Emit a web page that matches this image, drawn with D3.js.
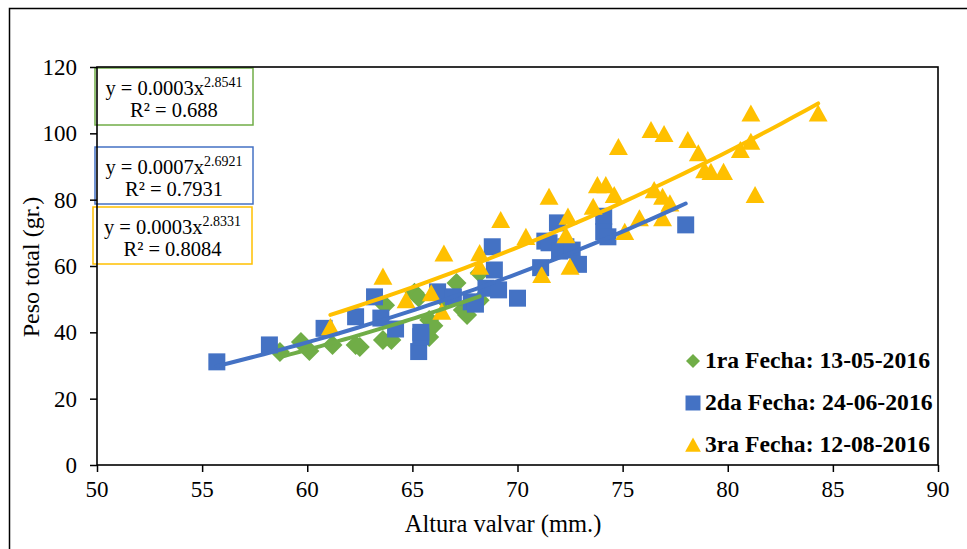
<!DOCTYPE html>
<html><head><meta charset="utf-8">
<script src="https://cdn.jsdelivr.net/npm/d3@7"></script>
<style>body{margin:0;background:#fff} svg{display:block}</style>
</head><body><svg id="c" width="967" height="549"></svg>
<script>
// ---- data ----
const seriesNames = ["1ra Fecha: 13-05-2016", "2da Fecha: 24-06-2016", "3ra Fecha: 12-08-2016"];
const fecha1 = [[58.7,34.1],[59.7,37.1],[60.1,34.4],[61.2,36.2],[62.3,36.2],[62.5,35.6],[63.6,37.7],[63.7,48.2],
  [64.0,37.7],[65.1,51.9],[65.3,50.5],[65.8,43.7],[65.8,38.6],[66.0,42.0],[66.5,50.0],[67.1,54.9],[67.4,46.7],
  [67.6,45.2],[68.2,57.9],[68.2,49.7]];
const fecha2 = [[55.7,31.1],[58.2,36.2],[60.8,41.2],[62.3,44.7],[63.2,50.7],[63.5,44.3],[64.2,41.0],[65.3,34.2],
  [65.4,38.7],[65.4,40.0],[66.2,52.2],[66.95,50.7],[67.8,49.2],[68.0,48.5],[68.5,53.3],[68.8,65.8],[68.9,58.8],
  [69.1,52.8],[70.0,50.3],[71.1,59.5],[71.3,67.5],[71.5,67.0],[71.9,73.0],[72.0,64.5],[72.3,65.8],[72.6,64.8],
  [72.9,60.5],[74.1,75.0],[74.1,70.3],[74.3,68.8],[78.0,72.4]];
const fecha3 = [[61.1,41.6],[63.6,56.8],[64.7,49.7],[65.9,51.8],[66.4,46.2],[66.5,63.8],[68.2,63.9],[68.2,59.8],
  [69.2,73.9],[70.4,68.8],[71.15,57.3],[71.5,80.9],[72.3,69.3],[72.4,74.9],[72.5,59.8],[73.6,77.9],[73.8,84.4],
  [74.2,84.4],[74.6,81.4],[74.8,95.9],[75.1,70.3],[75.8,74.4],[76.35,101],[76.5,82.9],[76.9,80.9],[76.9,74.4],
  [76.97,99.8],[77.25,78.9],[78.1,98],[78.6,94],[78.9,88.9],[79.2,88.4],[79.8,88.4],[80.6,95],[81.1,106],
  [81.1,97.5],[81.3,81.4],[84.3,106]];
const equationLines = [["y = 0.0003x", "2.8541", "R² = 0.688"],
                       ["y = 0.0007x", "2.6921", "R² = 0.7931"],
                       ["y = 0.0003x", "2.8331", "R² = 0.8084"]];
const xTicks = [50, 55, 60, 65, 70, 75, 80, 85, 90];
const yTicks = [0, 20, 40, 60, 80, 100, 120];
const xTitle = "Altura valvar (mm.)";
const yTitle = "Peso total (gr.)";

// ---- layout ----
const colors = ["#70AD47", "#4472C4", "#FFC000"];
const L = 97, R = 938, T = 67, B = 465;
const FONT = "'Liberation Serif','Times New Roman',serif";
const svg = d3.select("#c");
const x = d3.scaleLinear().domain([50, 90]).range([L, R]);
const y = d3.scaleLinear().domain([0, 120]).range([B, T]);

// outer border
svg.append("path").attr("d", "M9.5,549 L9.5,8.5 L967,8.5").attr("fill", "none").attr("stroke", "#000").attr("stroke-width", 1.5);

// equation boxes
const boxes = [{x0:95, y0:68, x1:253, y1:125}, {x0:95, y0:147, x1:253, y1:204}, {x0:93, y0:207, x1:252, y1:264}];
boxes.forEach((b, i) => {
  svg.append("rect").attr("x", b.x0).attr("y", b.y0).attr("width", b.x1 - b.x0).attr("height", b.y1 - b.y0)
    .attr("fill", "#fff").attr("stroke", colors[i]).attr("stroke-width", 1.5);
  const cx = (b.x0 + b.x1) / 2;
  const t1 = svg.append("text").attr("x", cx).attr("y", b.y0 + 27).attr("text-anchor", "middle")
    .attr("font-family", FONT).attr("font-size", 20.5).attr("fill", "#000");
  t1.append("tspan").text(equationLines[i][0]);
  t1.append("tspan").attr("font-size", 14).attr("dy", -8).text(equationLines[i][1]);
  svg.append("text").attr("x", cx).attr("y", b.y0 + 49).attr("text-anchor", "middle")
    .attr("font-family", FONT).attr("font-size", 20.5).attr("fill", "#000").text(equationLines[i][2]);
});

// axes (tick marks from d3 axes, labels placed by the same scales)
const xAxis = svg.append("g").attr("transform", `translate(0,${B})`)
  .call(d3.axisBottom(x).tickValues(xTicks).tickSizeInner(7).tickSizeOuter(0).tickFormat(""));
const yAxis = svg.append("g").attr("transform", `translate(${L},0)`)
  .call(d3.axisLeft(y).tickValues(yTicks).tickSizeInner(7).tickSizeOuter(0).tickFormat(""));
[xAxis, yAxis].forEach(g => {
  g.selectAll("line").attr("stroke", "#000").attr("stroke-width", 1.5);
  g.select(".domain").remove();
});
svg.append("g").selectAll("text").data(xTicks).enter().append("text")
  .attr("x", d => x(d)).attr("y", B + 32).attr("text-anchor", "middle")
  .attr("font-family", FONT).attr("font-size", 23).attr("fill", "#000").text(d => d);
svg.append("g").selectAll("text").data(yTicks).enter().append("text")
  .attr("x", 77).attr("y", d => y(d) + 8).attr("text-anchor", "end")
  .attr("font-family", FONT).attr("font-size", 23).attr("fill", "#000").text(d => d);

// plot frame
svg.append("rect").attr("x", L).attr("y", T).attr("width", R - L).attr("height", B - T)
  .attr("fill", "none").attr("stroke", "#000").attr("stroke-width", 1.6);

// titles
svg.append("text").attr("x", 503).attr("y", 532).attr("text-anchor", "middle")
  .attr("font-family", FONT).attr("font-size", 24.5).attr("fill", "#000").text(xTitle);
svg.append("text").attr("transform", `translate(39,267) rotate(-90)`).attr("text-anchor", "middle")
  .attr("font-family", FONT).attr("font-size", 24).attr("fill", "#000").text(yTitle);

// markers
const shapes = [
  s => `M0,${-s}L${s},0L0,${s}L${-s},0Z`,
  s => `M${-s},${-s}H${s}V${s}H${-s}Z`,
  s => `M0,${-s}L${s*1.05},${s*0.9}H${-s*1.05}Z`
];
const sizes = [10, 8.5, 9];
[fecha1, fecha2, fecha3].forEach((data, i) => {
  svg.append("g").selectAll("path").data(data).enter().append("path")
    .attr("transform", d => `translate(${x(d[0])},${y(d[1])})`)
    .attr("d", shapes[i](sizes[i])).attr("fill", colors[i]);
});

// power trendlines (least squares in log-log space)
function powerFit(pts) {
  const n = pts.length;
  let sx = 0, sy = 0, sxx = 0, sxy = 0;
  pts.forEach(([a, b]) => { const lx = Math.log(a), ly = Math.log(b); sx += lx; sy += ly; sxx += lx * lx; sxy += lx * ly; });
  const b = (n * sxy - sx * sy) / (n * sxx - sx * sx);
  const a = Math.exp((sy - b * sx) / n);
  return v => a * Math.pow(v, b);
}
[fecha1, fecha2, fecha3].forEach((data, i) => {
  const f = powerFit(data);
  const [mn, mx] = d3.extent(data, d => d[0]);
  const xs = d3.range(0, 41).map(k => mn + (mx - mn) * k / 40);
  svg.append("path").datum(xs)
    .attr("d", d3.line().x(v => x(v)).y(v => y(f(v))))
    .attr("fill", "none").attr("stroke", colors[i]).attr("stroke-width", 4).attr("stroke-linecap", "round");
});

// legend
const legY = [361, 403, 445];
seriesNames.forEach((name, i) => {
  const ls = [7, 7.5, 7.5][i];
  svg.append("path").attr("transform", `translate(693,${legY[i]})`).attr("d", shapes[i](ls)).attr("fill", colors[i]);
  svg.append("text").attr("x", 705).attr("y", legY[i] + 7).attr("font-family", FONT)
    .attr("font-size", 23.7).attr("font-weight", "bold").attr("fill", "#000").text(name);
});
</script></body></html>
